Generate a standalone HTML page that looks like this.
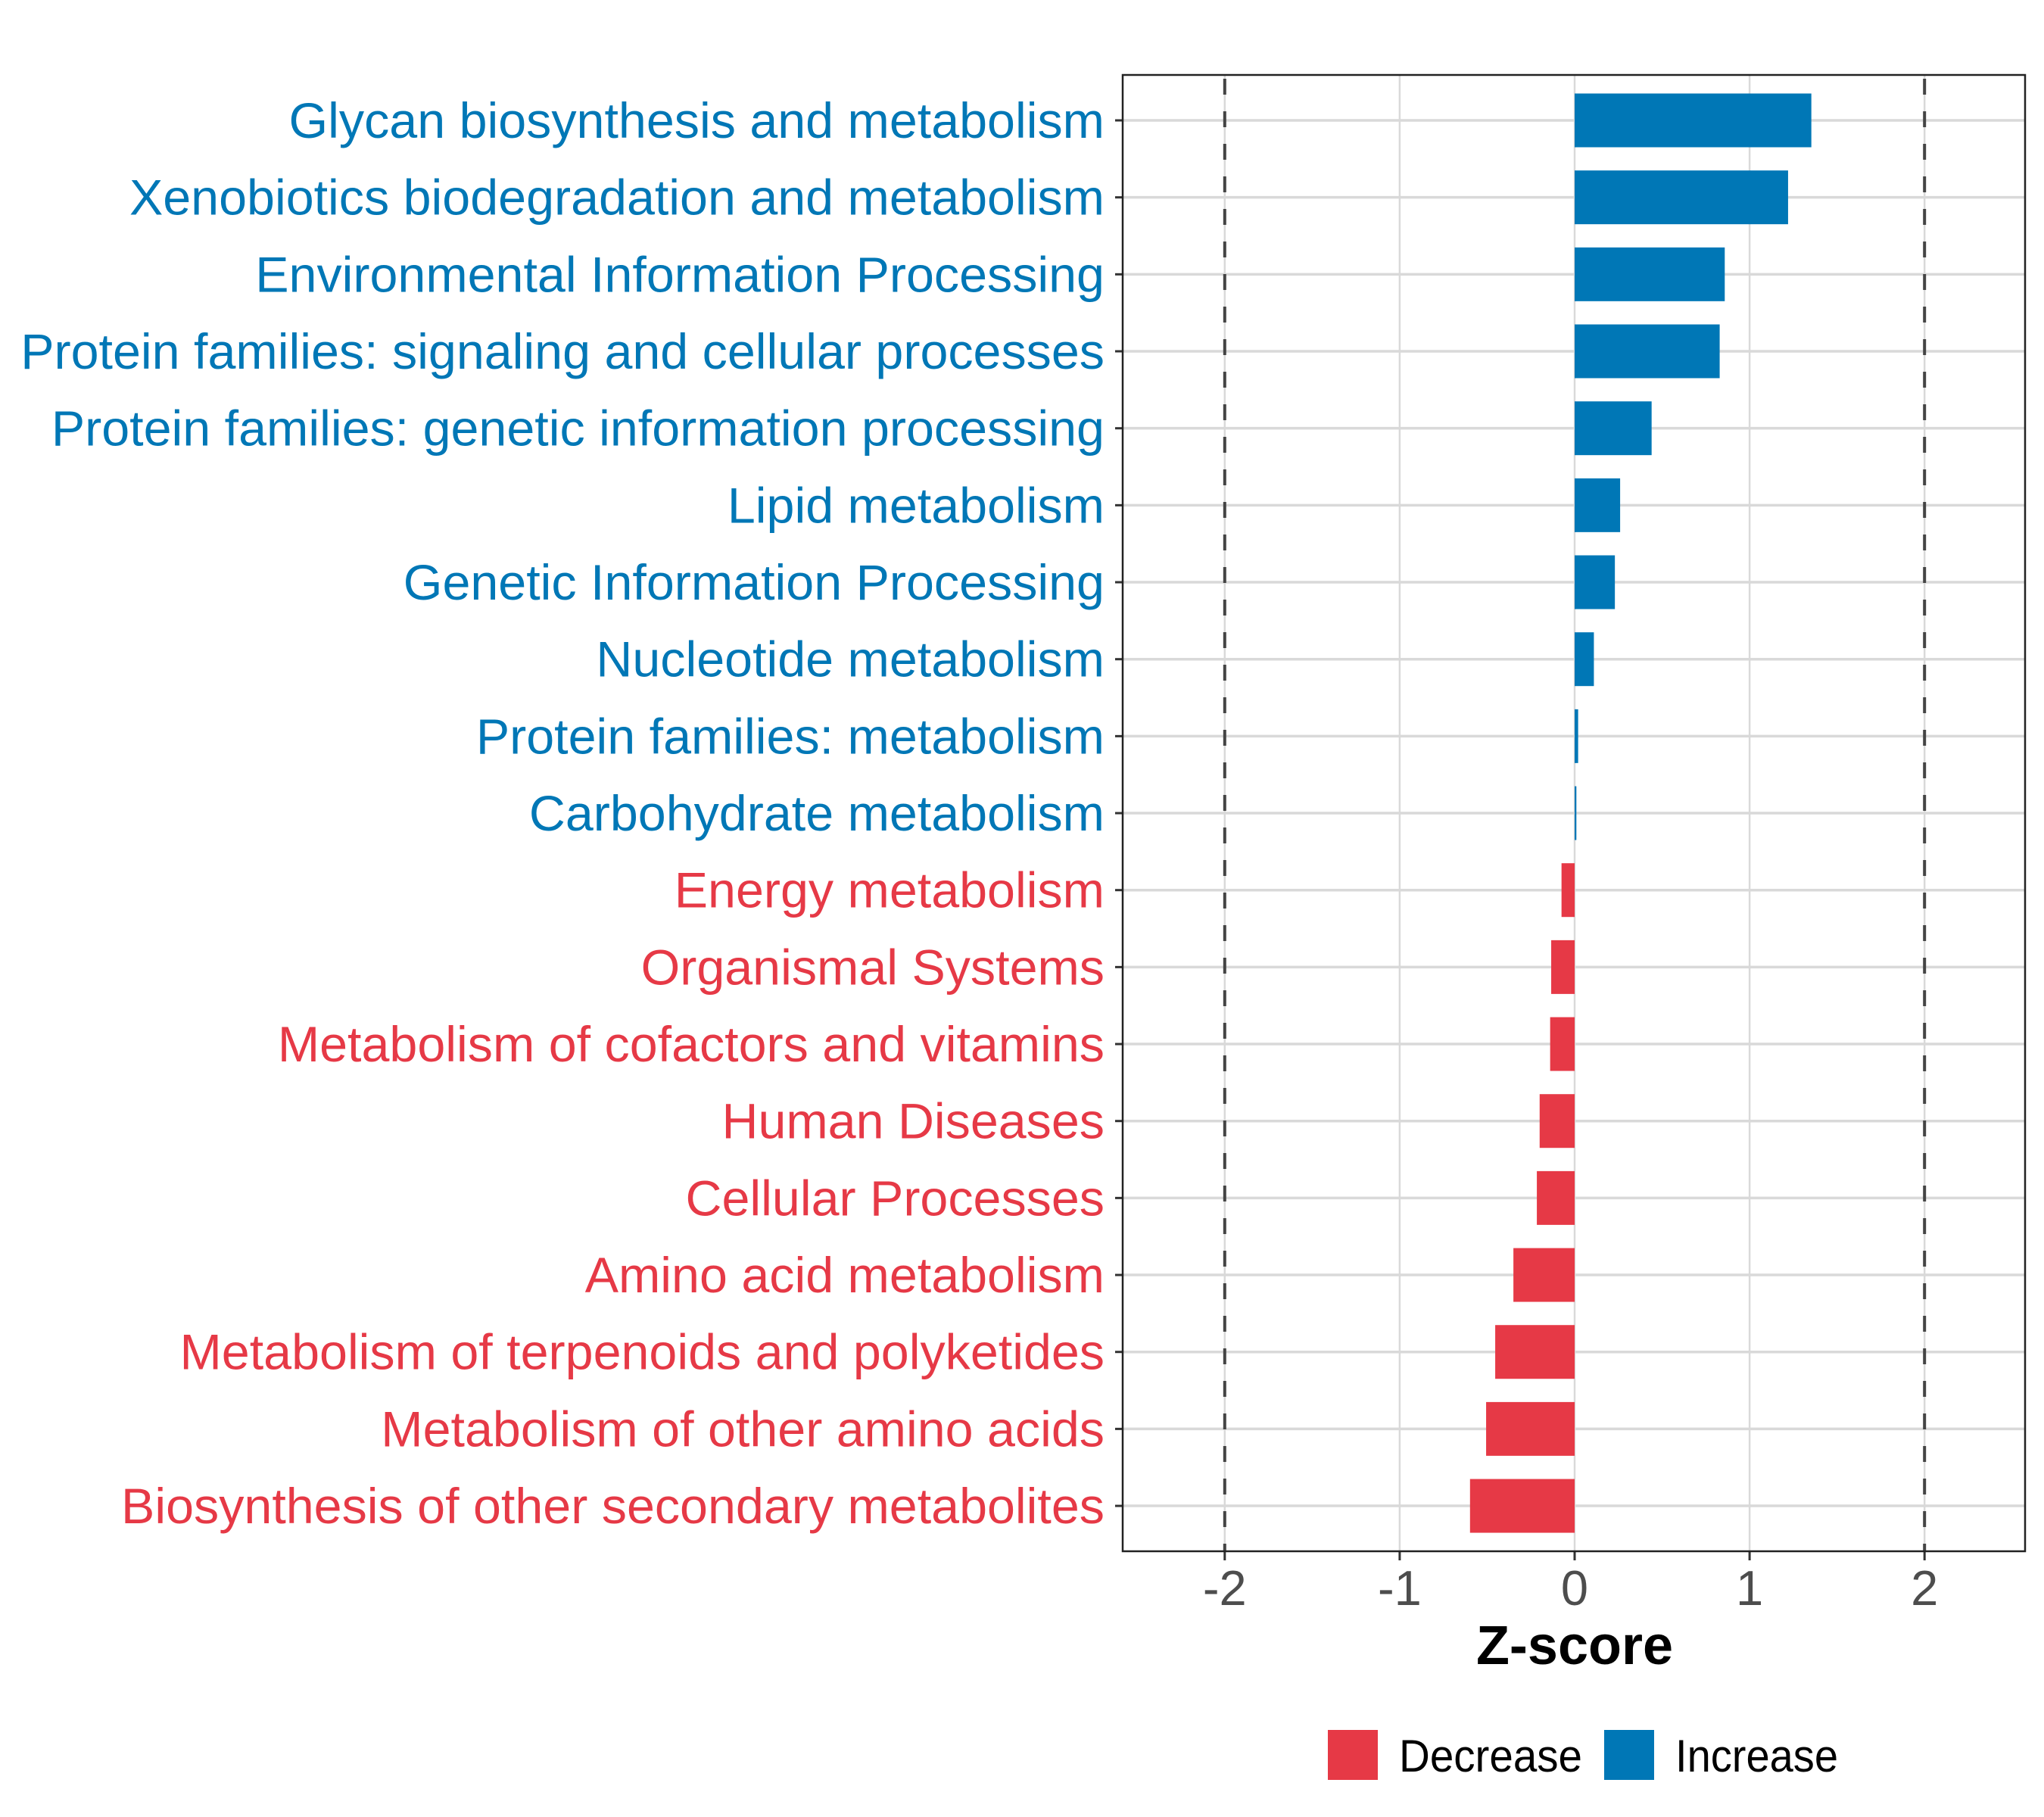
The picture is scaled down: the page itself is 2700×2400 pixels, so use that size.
<!DOCTYPE html>
<html><head><meta charset="utf-8"><style>
html,body{margin:0;padding:0;background:#fff;}
svg{display:block;font-family:"Liberation Sans",Arial,sans-serif;}
</style></head><body>
<svg id="chart" width="2700" height="2400" viewBox="0 0 2700 2400" xmlns="http://www.w3.org/2000/svg">
<rect width="2700" height="2400" fill="#fff"/>
<g id="grid"></g><g id="bars"></g><g id="refs"></g><g id="ylabels"></g><g id="xaxis"></g>
<rect x="1483" y="99" width="1192" height="1950" fill="none" stroke="#222" stroke-width="2.5"/>
<text x="2080" y="2198" font-size="72" font-weight="bold" text-anchor="middle" fill="#000">Z-score</text>
<g>
<rect x="1754" y="2285" width="66" height="66" fill="#E63946"/>
<text x="1848" y="2340" font-size="60" fill="#000" textLength="242" lengthAdjust="spacingAndGlyphs">Decrease</text>
<rect x="2119" y="2285" width="66" height="66" fill="#0077B6"/>
<text x="2213" y="2340" font-size="60" fill="#000" textLength="215" lengthAdjust="spacingAndGlyphs">Increase</text>
</g>
</svg>
<script>
const categories=["Glycan biosynthesis and metabolism","Xenobiotics biodegradation and metabolism","Environmental Information Processing","Protein families: signaling and cellular processes","Protein families: genetic information processing","Lipid metabolism","Genetic Information Processing","Nucleotide metabolism","Protein families: metabolism","Carbohydrate metabolism","Energy metabolism","Organismal Systems","Metabolism of cofactors and vitamins","Human Diseases","Cellular Processes","Amino acid metabolism","Metabolism of terpenoids and polyketides","Metabolism of other amino acids","Biosynthesis of other secondary metabolites"];
const zscores=[1.353,1.22,0.858,0.829,0.44,0.26,0.23,0.11,0.02,0.01,-0.075,-0.134,-0.14,-0.2,-0.216,-0.35,-0.454,-0.506,-0.598];
const xTicks=[-2,-1,0,1,2];
const xTickLabels=["-2","-1","0","1","2"];
const refLines=[-2,2];

const NS="http://www.w3.org/2000/svg";
const BLUE="#0077B6",RED="#E63946";
const x=v=>2080+v*231.1;
const y=i=>159+i*101.67;
const barH=71;
function mk(tag,parent,attrs){const e=document.createElementNS(NS,tag);for(const k in attrs)e.setAttribute(k,attrs[k]);parent.appendChild(e);return e;}
const grid=document.getElementById('grid'),bars=document.getElementById('bars'),refs=document.getElementById('refs'),yl=document.getElementById('ylabels'),xa=document.getElementById('xaxis');
xTicks.forEach((t,i)=>{
  const g=mk('line',grid,{x1:x(t),x2:x(t),y1:99,y2:2049,stroke:'#d9d9d9','stroke-width':2.5});
  
  
  const tk=mk('line',xa,{x1:x(t),x2:x(t),y1:2049,y2:2061,stroke:'#333','stroke-width':3});
  
  
  const tl=mk('text',xa,{x:x(t),y:2120,'font-size':65,'text-anchor':'middle',fill:'#4d4d4d'});
  tl.textContent=xTickLabels[i];
  
  
});
categories.forEach((c,i)=>{
  const gl=mk('line',grid,{x1:1483,x2:2675,y1:y(i),y2:y(i),stroke:'#d9d9d9','stroke-width':3.5});
  
  
  const v=zscores[i];
  const col=v>=0?BLUE:RED;
  const b=mk('rect',bars,{x:Math.min(x(0),x(v)),y:y(i)-barH/2,width:Math.max(Math.abs(x(v)-x(0)),1),height:barH,fill:col});
  
  
  const tk=mk('line',yl,{x1:1473,x2:1483,y1:y(i),y2:y(i),stroke:'#333','stroke-width':3});
  
  
  const t=mk('text',yl,{x:1459,y:y(i)+23,'font-size':66,'text-anchor':'end',fill:col});
  t.textContent=c;
  
  
});
refLines.forEach(r=>{
  const l=mk('line',refs,{x1:x(r),x2:x(r),y1:99,y2:2049,stroke:'#444','stroke-width':4,'stroke-dasharray':'21 22','stroke-dashoffset':'-5'});
  
  
});
const labels=[...yl.querySelectorAll('text')];
let maxW=0;labels.forEach(t=>{maxW=Math.max(maxW,t.getComputedTextLength());});
if(maxW>0){const s=1432/maxW;labels.forEach(t=>{t.setAttribute('transform','translate(1459 0) scale('+s+' 1) translate(-1459 0)');});}
</script>
</body></html>
